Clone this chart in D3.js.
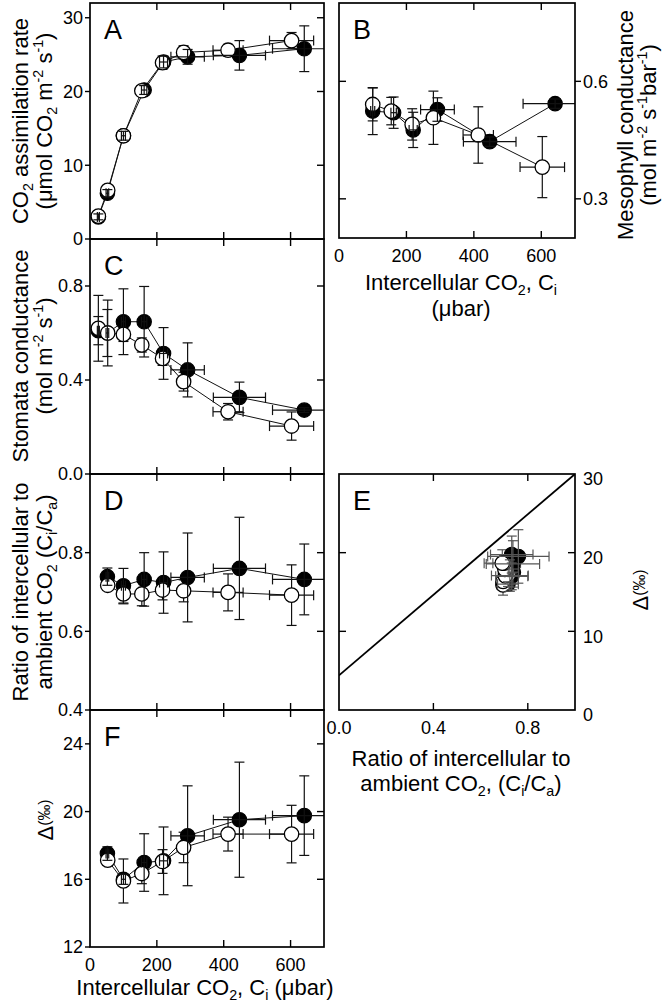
<!DOCTYPE html>
<html><head><meta charset="utf-8">
<script src="https://cdn.jsdelivr.net/npm/d3@7"></script>
<style>body{margin:0;background:#fff}svg{display:block}text{font-family:"Liberation Sans",Arial,sans-serif;fill:#000}</style>
</head><body><svg id="c" width="668" height="1004"></svg>
<script>
// Intercellular CO2 (µbar) of the two treatments, with SE
const ciOpen      = [25, 53, 100, 155, 217, 280, 413, 603];
const ciOpenErr   = [3, 4, 6, 8, 10, 15, 45, 66];
const ciFilled    = [25, 52, 100, 162, 220, 292, 447, 641];
const ciFilledErr = [3, 4, 6, 8, 12, 50, 78, 95];

// A: CO2 assimilation rate
const assimOpen      = [3.1, 6.6, 14.0, 20.1, 23.9, 25.3, 25.6, 26.9];
const assimOpenErr   = [0.4, 0.5, 0.6, 0.6, 0.9, 0.9, 0.8, 1.1];
const assimFilled    = [3.0, 6.2, 14.0, 20.2, 24.0, 24.7, 24.9, 25.8];
const assimFilledErr = [0.4, 0.5, 0.6, 0.6, 0.8, 1.0, 2.0, 3.1];

// B: mesophyll conductance
const gmOpen      = [null, null, 0.541, 0.524, 0.490, 0.507, 0.463, 0.381];
const gmOpenErr   = [null, null, 0.042, 0.035, 0.040, 0.068, 0.072, 0.078];
const gmFilled    = [null, null, 0.524, 0.520, 0.476, 0.528, 0.446, 0.543];
const gmFilledErr = [null, null, 0.060, 0.040, 0.045, 0.030, 0.012, 0.012];

// C: stomatal conductance
const gsOpen      = [0.620, 0.600, 0.594, 0.549, 0.492, 0.393, 0.265, 0.204];
const gsOpenErr   = [0.140, 0.140, 0.030, 0.030, 0.030, 0.040, 0.035, 0.060];
const gsFilled    = [0.610, 0.600, 0.648, 0.648, 0.513, 0.443, 0.326, 0.272];
const gsFilledErr = [0.060, 0.100, 0.140, 0.150, 0.110, 0.115, 0.065, 0.010];

// D: Ci/Ca
const ratioOpen      = [null, 0.717, 0.695, 0.695, 0.705, 0.703, 0.699, 0.692];
const ratioOpenErr   = [null, 0.012, 0.025, 0.030, 0.025, 0.028, 0.047, 0.077];
const ratioFilled    = [null, 0.739, 0.716, 0.732, 0.724, 0.737, 0.760, 0.732];
const ratioFilledErr = [null, 0.022, 0.044, 0.068, 0.078, 0.113, 0.130, 0.090];

// F: carbon isotope discrimination (‰)
const deltaOpen      = [null, 17.13, 15.90, 16.34, 17.05, 17.88, 18.67, 18.67];
const deltaOpenErr   = [null, 0.3, 1.3, 0.6, 0.7, 0.9, 1.0, 1.7];
const deltaFilled    = [null, 17.52, 16.00, 16.99, 17.09, 18.57, 19.52, 19.76];
const deltaFilledErr = [null, 0.4, 0.3, 1.7, 2.0, 2.95, 3.4, 2.35];

// E: model line
const modelX = [0, 1.0];
const modelY = [4.4, 30];

const ciTicks = [0, 200, 400, 600];

const svg = d3.select('#c');
const FS_TICK = 18, FS_TITLE = 22, FS_LETTER = 27, TL = 7;

function rich(sel, parts, fs){
  let shift = 0;
  parts.forEach(([t,k])=>{
    const target = k==='sup' ? -fs*0.38 : k==='sub' ? fs*0.22 : k==='sm' ? -fs*0.12 : 0;
    const size = k==='n' ? fs : (k==='sm' ? fs*0.72 : fs*0.65);
    sel.append('tspan').attr('dy', target-shift).attr('font-size', size).text(t);
    shift = target;
  });
}
function vTitle(cx, cy, parts, fs){
  const t = svg.append('text').attr('transform',`translate(${cx},${cy}) rotate(-90)`)
    .attr('text-anchor','middle').attr('y', fs*0.35).attr('font-size', fs);
  rich(t, parts, fs);
}
function hTitle(cx, by, parts, fs){
  const t = svg.append('text').attr('x',cx).attr('y',by).attr('text-anchor','middle').attr('font-size',fs);
  rich(t, parts, fs);
}

function errorBars(g, pts, color, w){
  const cap = 5;
  pts.forEach(p=>{
    const segs = [];
    if (p.ye != null){
      const a = p.sy(p.y - p.ye), b = p.sy(p.y + p.ye), cx = p.sx(p.x);
      segs.push([cx,a,cx,b],[cx-cap,a,cx+cap,a],[cx-cap,b,cx+cap,b]);
    }
    if (p.xe != null){
      const a = p.sx(p.x - p.xe), b = p.sx(p.x + p.xe), cy = p.sy(p.y);
      segs.push([a,cy,b,cy],[a,cy-cap,a,cy+cap],[b,cy-cap,b,cy+cap]);
    }
    segs.forEach(s=>g.append('line').attr('x1',s[0]).attr('y1',s[1]).attr('x2',s[2]).attr('y2',s[3])
      .attr('stroke',color).attr('stroke-width',w));
  });
}

function makePanel(o){
  const x = d3.scaleLinear().domain(o.xd).range([o.x0,o.x1]);
  const y = d3.scaleLinear().domain(o.yd).range([o.y1,o.y0]);
  const id = 'clip'+o.letter;
  svg.append('clipPath').attr('id',id).append('rect')
    .attr('x',o.x0).attr('y',o.y0).attr('width',o.x1-o.x0).attr('height',o.y1-o.y0);
  const plot = svg.append('g').attr('clip-path',`url(#${id})`);

  const mk = (xs,xe,ys,ye)=> ys.map((v,i)=> v==null ? null : ({x:xs[i], xe:xe?xe[i]:null, y:v, ye:ye?ye[i]:null, sx:x, sy:y})).filter(d=>d);
  const open = mk(o.open[0],o.open[1],o.open[2],o.open[3]);
  const filled = mk(o.filled[0],o.filled[1],o.filled[2],o.filled[3]);

  if (o.model){
    plot.append('path').datum(o.model[0].map((v,i)=>[v,o.model[1][i]]))
      .attr('d', d3.line().x(d=>x(d[0])).y(d=>y(d[1])))
      .attr('fill','none').attr('stroke','#000').attr('stroke-width',1.8);
  }
  const line = d3.line().x(d=>x(d.x)).y(d=>y(d.y));
  if (o.connect){
    [filled, open].forEach(s=>plot.append('path').attr('d',line(s)).attr('fill','none').attr('stroke','#111').attr('stroke-width',1));
  }
  const ec = o.errColor || '#111';
  errorBars(plot, open, ec, 1.2);
  const R = 7.2;
  plot.selectAll(null).data(filled).enter().append('circle')
    .attr('cx',d=>x(d.x)).attr('cy',d=>y(d.y)).attr('r',R).attr('fill','#000').attr('stroke','#000').attr('stroke-width',1.2);
  plot.selectAll(null).data(open).enter().append('circle')
    .attr('cx',d=>x(d.x)).attr('cy',d=>y(d.y)).attr('r',R).attr('fill','#fff').attr('stroke','#000').attr('stroke-width',1.3);
  errorBars(plot, filled, ec, 1.2);

  const tg = svg.append('g').attr('stroke','#000').attr('stroke-width',1.4);
  const seg = (a,b,c,d)=>tg.append('line').attr('x1',a).attr('y1',b).attr('x2',c).attr('y2',d);
  o.xt.forEach(v=>{
    const px = x(v);
    if (px > o.x0+1 && px < o.x1-1){ seg(px,o.y0,px,o.y0+TL); seg(px,o.y1,px,o.y1-TL); }
  });
  o.yt.forEach(v=>{
    const py = y(v);
    const inside = py > o.y0+1 && py < o.y1-1;
    if (o.leftOut) seg(o.x0-5,py,o.x0,py); else if (inside) seg(o.x0,py,o.x0+TL,py);
    if (o.rightOut) seg(o.x1,py,o.x1+6,py); else if (inside) seg(o.x1,py,o.x1-TL,py);
  });
  svg.append('rect').attr('x',o.x0).attr('y',o.y0).attr('width',o.x1-o.x0).attr('height',o.y1-o.y0)
    .attr('fill','none').attr('stroke','#000').attr('stroke-width',1.7);

  const yf = d3.format(o.yfmt), xf = d3.format(o.xfmt||'d');
  o.yt.forEach(v=>{
    const t = svg.append('text').attr('font-size',FS_TICK).attr('y', y(v)).attr('dy', (o.ylabDy||0) + FS_TICK*0.35).text(yf(v));
    if (o.labelRight) t.attr('x', o.x1+8).attr('text-anchor','start');
    else t.attr('x', o.x0-7).attr('text-anchor','end');
  });
  if (o.xLabels){
    o.xt.forEach(v=>svg.append('text').attr('font-size',FS_TICK).attr('x',x(v)).attr('y',o.y1+24)
      .attr('text-anchor','middle').text(xf(v)));
  }
  svg.append('text').attr('x',o.x0+14).attr('y',o.y0+36).attr('font-size',FS_LETTER).text(o.letter);
}

const L0 = 90, L1 = 324, R0 = 339, R1 = 575;

makePanel({letter:'A', x0:L0,x1:L1,y0:3,y1:239, xd:[0,700], yd:[0,32], xt:ciTicks, yt:[0,10,20,30], yfmt:'d', leftOut:true, connect:true,
  open:[ciOpen,ciOpenErr,assimOpen,assimOpenErr], filled:[ciFilled,ciFilledErr,assimFilled,assimFilledErr]});
makePanel({letter:'C', x0:L0,x1:L1,y0:239,y1:474, xd:[0,700], yd:[0,1.0], xt:ciTicks, yt:[0,0.4,0.8], yfmt:'.1f', leftOut:true, connect:true,
  open:[ciOpen,ciOpenErr,gsOpen,gsOpenErr], filled:[ciFilled,ciFilledErr,gsFilled,gsFilledErr]});
makePanel({letter:'D', x0:L0,x1:L1,y0:474,y1:710, xd:[0,700], yd:[0.4,1.0], xt:ciTicks, yt:[0.4,0.6,0.8], yfmt:'.1f', leftOut:true, connect:true,
  open:[ciOpen,ciOpenErr,ratioOpen,ratioOpenErr], filled:[ciFilled,ciFilledErr,ratioFilled,ratioFilledErr]});
makePanel({letter:'F', x0:L0,x1:L1,y0:710,y1:947, xd:[0,700], yd:[12,26], xt:ciTicks, yt:[12,16,20,24], yfmt:'d', leftOut:true, connect:true, xLabels:true,
  open:[ciOpen,ciOpenErr,deltaOpen,deltaOpenErr], filled:[ciFilled,ciFilledErr,deltaFilled,deltaFilledErr]});
makePanel({letter:'B', x0:R0,x1:R1,y0:3,y1:238, xd:[0,700], yd:[0.2,0.8], xt:ciTicks, yt:[0.3,0.6], yfmt:'.1f', rightOut:true, labelRight:true, connect:true, xLabels:true,
  open:[ciOpen,ciOpenErr,gmOpen,gmOpenErr], filled:[ciFilled,ciFilledErr,gmFilled,gmFilledErr]});
makePanel({letter:'E', x0:R0,x1:R1,y0:474,y1:710, xd:[0,1.0], yd:[0,30], xt:[0,0.4,0.8], xfmt:'.1f', yt:[0,10,20,30], yfmt:'d', labelRight:true, ylabDy:5, xLabels:true,
  errColor:'#555', model:[modelX, modelY],
  open:[ratioOpen,ratioOpenErr,deltaOpen,deltaOpenErr], filled:[ratioFilled,ratioFilledErr,deltaFilled,deltaFilledErr]});

vTitle(20, 121, [['CO','n'],['2','sub'],[' assimilation rate','n']], FS_TITLE);
vTitle(44, 121, [['(μmol CO','n'],['2','sub'],[' m','n'],['-2','sup'],[' s','n'],['-1','sup'],[')','n']], FS_TITLE);
vTitle(20, 356, [['Stomata conductance','n']], FS_TITLE);
vTitle(44, 356, [['(mol m','n'],['-2','sup'],[' s','n'],['-1','sup'],[')','n']], FS_TITLE);
vTitle(20, 592, [['Ratio of intercellular to','n']], FS_TITLE);
vTitle(44, 592, [['ambient CO','n'],['2','sub'],[' (C','n'],['i','sub'],['/C','n'],['a','sub'],[')','n']], FS_TITLE);
vTitle(45, 820, [['Δ','n'],['(‰)','sm']], FS_TITLE);
vTitle(625, 125, [['Mesophyll conductance','n']], FS_TITLE);
vTitle(648, 125, [['(mol m','n'],['-2','sup'],[' s','n'],['-1','sup'],['bar','n'],['-1','sup'],[')','n']], FS_TITLE);
vTitle(640, 590, [['Δ','n'],['(‰)','sm']], FS_TITLE);
hTitle(461, 290, [['Intercellular CO','n'],['2','sub'],[', C','n'],['i','sub']], FS_TITLE);
hTitle(461, 316, [['(μbar)','n']], FS_TITLE);
hTitle(461, 766, [['Ratio of intercellular to','n']], FS_TITLE);
hTitle(461, 791, [['ambient CO','n'],['2','sub'],[', (C','n'],['i','sub'],['/C','n'],['a','sub'],[')','n']], FS_TITLE);
hTitle(205, 995, [['Intercellular CO','n'],['2','sub'],[', C','n'],['i','sub'],[' (μbar)','n']], FS_TITLE);
</script></body></html>
